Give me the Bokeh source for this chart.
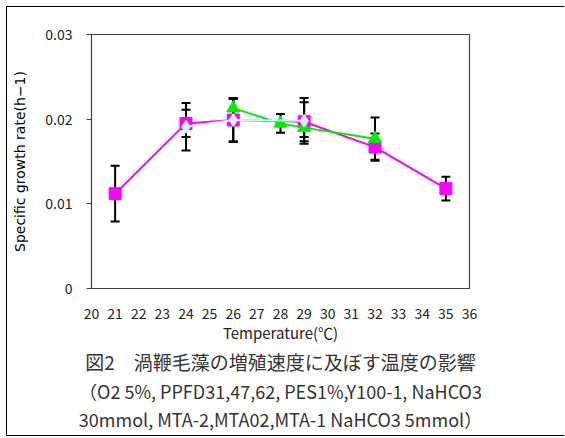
from bokeh.plotting import figure
from bokeh.layouts import column
from bokeh.models import (ColumnDataSource, Whisker, TeeHead, FixedTicker, Title,
                          Range1d)
from bokeh.embed import file_html
from bokeh.resources import INLINE

# Data
temps_sq = [21, 24, 26, 29, 32, 35]
rate_sq = [0.0112, 0.0195, 0.0199, 0.0197, 0.0167, 0.0118]
err_sq = [0.0033, 0.0016, 0.0026, 0.0023, 0.0016, 0.0014]

temps_di = [24, 26, 29]
rate_di = [0.0191, 0.0199, 0.0198]
err_di = [0.0028, 0.0025, 0.0027]

temps_tr = [26, 28, 29, 32]
rate_tr = [0.0213, 0.0195, 0.0190, 0.0177]
err_tr = [0.0011, 0.0011, 0.0011, 0.0025]

x_ticks = list(range(20, 37))
y_ticks = [0, 0.01, 0.02, 0.03]
y_tick_labels = ["0", "0.01", "0.02", "0.03"]

y_label = "Specific growth rate(h\u22121)"
x_label = "Temperature(\u2103)"
caption = [
    "図2\u3000渦鞭毛藻の増殖速度に及ぼす温度の影響",
    "\uff08O2 5%, PPFD31,47,62, PES1%,Y100-1, NaHCO3",
    "30mmol, MTA-2,MTA02,MTA-1 NaHCO3 5mmol\uff09",
]

JP = "Noto Sans CJK JP"

p = figure(width=557, height=428, output_backend="svg", toolbar_location=None,
           x_range=Range1d(20, 36), y_range=Range1d(0, 0.03),
           min_border_left=84, min_border_right=95, min_border_top=27,
           min_border_bottom=147)
p.xgrid.visible = False
p.ygrid.visible = False
p.outline_line_color = "#404040"
p.outline_line_width = 1.2
p.background_fill_color = "white"
p.border_fill_color = "white"

p.xaxis.ticker = FixedTicker(ticks=x_ticks)
p.xaxis.major_tick_line_color = None
p.xaxis.minor_tick_line_color = None
p.xaxis.axis_line_color = "#404040"
p.xaxis.major_label_text_font = JP
p.xaxis.major_label_text_font_size = "14px"
p.xaxis.major_label_text_color = "#222222"
p.xaxis.major_label_standoff = 13
p.xaxis.axis_label = x_label
p.xaxis.axis_label_text_font = JP
p.xaxis.axis_label_text_font_size = "15px"
p.xaxis.axis_label_text_font_style = "normal"
p.xaxis.axis_label_text_color = "#222222"
p.xaxis.axis_label_standoff = 0

p.yaxis.ticker = FixedTicker(ticks=y_ticks)
p.yaxis.major_label_overrides = {t: s for t, s in zip(y_ticks, y_tick_labels)}
p.yaxis.minor_tick_line_color = None
p.yaxis.major_tick_in = 0
p.yaxis.major_tick_out = 5
p.yaxis.major_tick_line_color = "#404040"
p.yaxis.axis_line_color = "#404040"
p.yaxis.major_label_text_font = JP
p.yaxis.major_label_text_font_size = "14px"
p.yaxis.major_label_text_color = "#222222"
p.yaxis.major_label_standoff = 14
p.yaxis.axis_label = y_label
p.yaxis.axis_label_text_font = "DejaVu Sans"
p.yaxis.axis_label_text_font_size = "14px"
p.yaxis.axis_label_text_font_style = "normal"
p.yaxis.axis_label_text_color = "black"
p.yaxis.axis_label_standoff = 14

src_sq = ColumnDataSource(dict(x=temps_sq, y=rate_sq,
                               lo=[a - b for a, b in zip(rate_sq, err_sq)],
                               hi=[a + b for a, b in zip(rate_sq, err_sq)]))
src_di = ColumnDataSource(dict(x=temps_di, y=rate_di,
                               lo=[a - b for a, b in zip(rate_di, err_di)],
                               hi=[a + b for a, b in zip(rate_di, err_di)]))
src_tr = ColumnDataSource(dict(x=temps_tr, y=rate_tr,
                               lo=[a - b for a, b in zip(rate_tr, err_tr)],
                               hi=[a + b for a, b in zip(rate_tr, err_tr)]))

for src in (src_sq, src_tr, src_di):
    w = Whisker(source=src, base="x", lower="lo", upper="hi",
                line_color="black", line_width=2,
                upper_head=TeeHead(size=9, line_color="black", line_width=2),
                lower_head=TeeHead(size=9, line_color="black", line_width=2),
                level="underlay")
    p.add_layout(w)

p.line("x", "y", source=src_sq, line_color="#FF00FF", line_width=2)
p.scatter("x", "y", source=src_sq, marker="square", size=12,
          fill_color="#FF00FF", line_color="#FF00FF")
p.line("x", "y", source=src_tr, line_color="#00EE00", line_width=2)
p.scatter("x", "y", source=src_tr, marker="triangle", size=13,
          fill_color="#00EE00", line_color="#00EE00")
p.line("x", "y", source=src_di, line_color="#CCF4FF", line_width=2)
p.scatter("x", "y", source=src_di, marker="diamond", size=13,
          fill_color="#CCF4FF", line_color="#CCF4FF")

# Caption lines below the chart, stacked under the x axis
cap_sizes = ["19px", "18px", "18px"]
cap_standoff = [1, 0, 0]
cap_line_height = [1.2, 1.0, 1.0]
for txt, fs, so, lh in zip(caption, cap_sizes, cap_standoff, cap_line_height):
    p.add_layout(Title(text=txt, align="center", text_font=JP,
                       text_font_size=fs, text_font_style="normal",
                       text_line_height=lh,
                       text_color="#333333", standoff=so), "below")

layout = column(p, margin=(6, 0, 0, 6),
                styles={"border-top": "1.5px solid black",
                        "border-left": "1.5px solid black",
                        "border-bottom": "1.5px solid black"})

open("out.html", "w").write(file_html(layout, INLINE))
